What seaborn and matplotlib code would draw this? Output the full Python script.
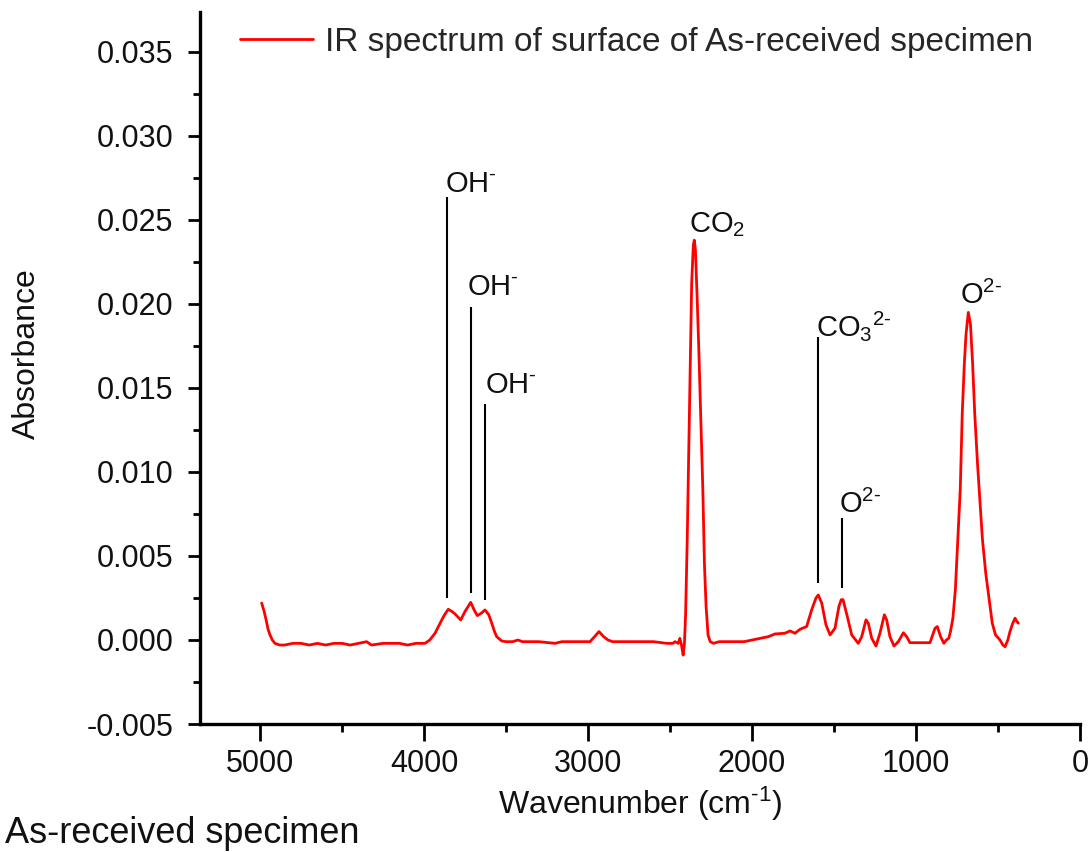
import matplotlib
matplotlib.use('Agg')
import matplotlib.pyplot as plt
from matplotlib.ticker import MultipleLocator, FormatStrFormatter
import seaborn as sns
import pandas as pd

# IR spectrum (wavenumber in cm-1, absorbance)
wavenumber = [4990, 4975, 4963, 4950, 4939, 4925, 4909, 4880, 4850, 4800, 4750, 4700,
              4650, 4600, 4550, 4500, 4450, 4400, 4350, 4320, 4250, 4200, 4150, 4100,
              4050, 4020, 3994, 3965, 3933, 3902, 3875, 3852, 3830, 3811, 3776, 3750,
              3715, 3695, 3675, 3650, 3628, 3605, 3587, 3570, 3557, 3526, 3500, 3460,
              3427, 3400, 3300, 3201, 3160, 3050, 2988, 2960, 2933, 2905, 2878, 2850,
              2700, 2600, 2520, 2482, 2470, 2450, 2440, 2430, 2420, 2412, 2405, 2395,
              2385, 2375, 2368, 2358, 2352, 2345, 2335, 2325, 2310, 2300, 2290, 2280,
              2268, 2255, 2235, 2200, 2150, 2100, 2049, 2000, 1951, 1900, 1860, 1800,
              1768, 1738, 1707, 1667, 1636, 1610, 1596, 1575, 1549, 1524, 1494, 1470,
              1456, 1445, 1419, 1392, 1352, 1331, 1305, 1291, 1270, 1244, 1220, 1193,
              1179, 1159, 1134, 1108, 1077, 1057, 1037, 980, 915, 884, 870, 850,
              830, 815, 800, 790, 775, 760, 745, 730, 718, 705, 695, 681,
              668, 655, 642, 625, 610, 595, 575, 555, 535, 515, 488, 470,
              457, 440, 427, 410, 396, 385, 376]
absorbance = [0.0022, 0.0017, 0.0012, 0.0006, 0.0003, 0.0000, -0.0002, -0.0003, -0.0003, -0.0002, -0.0002, -0.0003,
              -0.0002, -0.0003, -0.0002, -0.0002, -0.0003, -0.0002, -0.0001, -0.0003, -0.0002, -0.0002, -0.0002, -0.0003,
              -0.0002, -0.0002, -0.0002, 0.0000, 0.0004, 0.0010, 0.0015, 0.00183, 0.0017, 0.00155, 0.00119, 0.0017,
              0.00224, 0.0018, 0.00145, 0.0016, 0.00179, 0.0015, 0.0010, 0.0005, 0.0002, -0.00006, -0.0001, -0.0001,
              0.0000, -0.0001, -0.0001, -0.0002, -0.0001, -0.0001, -0.0001, 0.0002, 0.0005, 0.0002, 0.0000, -0.0001,
              -0.0001, -0.0001, -0.0002, -0.0002, -0.0001, -0.0002, 0.0001, -0.0003, -0.0009, -0.0002, 0.0015, 0.0060,
              0.0115, 0.0170, 0.0212, 0.0235, 0.0238, 0.0232, 0.0205, 0.0175, 0.0125, 0.0090, 0.0045, 0.0020,
              0.0003, -0.0001, -0.0002, -0.0001, -0.0001, -0.0001, -0.0001, 0.0000, 0.0001, 0.0002, 0.00036, 0.0004,
              0.00054, 0.0004, 0.00064, 0.0008, 0.0018, 0.0025, 0.00268, 0.0022, 0.0009, 0.0003, 0.0007, 0.0020,
              0.0024, 0.0024, 0.0014, 0.0003, -0.0002, 0.0002, 0.0012, 0.0010, 0.0001, -0.00036, 0.0004, 0.0015,
              0.0012, 0.0002, -0.00036, -0.0001, 0.00043, 0.0002, -0.00016, -0.00016, -0.00016, 0.0007, 0.0008, 0.0002,
              -0.0002, 0.0000, 0.0001, 0.0005, 0.0013, 0.0030, 0.0060, 0.0090, 0.0135, 0.0165, 0.0182, 0.0195,
              0.0188, 0.0165, 0.0135, 0.0105, 0.0082, 0.0060, 0.0040, 0.0025, 0.0010, 0.0003, 0.0000, -0.0003,
              -0.0004, 0.0000, 0.0005, 0.0010, 0.0013, 0.0011, 0.0010]

# marker lines for the assigned bands
line_wn = [3862, 3716, 3628, 1596, 1453]
line_bottom = [0.0025, 0.0028, 0.0024, 0.0034, 0.0031]
line_top = [0.02637, 0.0198, 0.01405, 0.01805, 0.00724]

# band labels (hyphen kept as a plain hyphen like the original)
label_text = ['OH$^{\\text{-}}$', 'OH$^{\\text{-}}$', 'OH$^{\\text{-}}$', 'CO$_2$',
              'CO$_3$$^{2\\text{-}}$', 'O$^{2\\text{-}}$', 'O$^{2\\text{-}}$']
label_wn = [3862, 3716, 3628, 2352, 1596, 1453, 681]
label_ab = [0.02637, 0.0198, 0.01405, 0.0238, 0.01805, 0.00724, 0.0195]
label_dx = [-2, -4, 0, -5, -2, -3, -8]
label_dy = [5, 12, 11, 8, 1, 5, 8]

series_name = 'IR spectrum of surface of As-received specimen'

df = pd.DataFrame({'wavenumber': wavenumber, 'absorbance': absorbance})

sns.set_style('ticks')
plt.rcParams['font.family'] = ['Liberation Sans', 'DejaVu Sans']
plt.rcParams['mathtext.fontset'] = 'custom'
plt.rcParams['mathtext.rm'] = 'Liberation Sans'
plt.rcParams['mathtext.it'] = 'Liberation Sans:italic'
plt.rcParams['mathtext.bf'] = 'Liberation Sans:bold'
plt.rcParams['axes.unicode_minus'] = False

fig = plt.figure(figsize=(10.91, 8.52), dpi=100)
ax = fig.add_axes([200/1091, 1-724/852, 880/1091, 712/852])

sns.lineplot(data=df, x='wavenumber', y='absorbance', color='#ff0000', lw=2,
             sort=False, estimator=None, ax=ax, label=series_name)

ax.vlines(line_wn, line_bottom, line_top, color='black', lw=1.5)
for t, x, y, dx, dy in zip(label_text, label_wn, label_ab, label_dx, label_dy):
    ax.annotate(t, (x, y), xytext=(dx*0.72, dy*0.72), textcoords='offset points',
                ha='left', va='baseline', fontsize=21, color='#111111')

ax.set_xlim(5366, 0)
ax.set_ylim(-0.005, 0.03738)
ax.xaxis.set_major_locator(MultipleLocator(1000))
ax.xaxis.set_minor_locator(MultipleLocator(500))
ax.yaxis.set_major_locator(MultipleLocator(0.005))
ax.yaxis.set_minor_locator(MultipleLocator(0.0025))
ax.yaxis.set_major_formatter(FormatStrFormatter('%.3f'))

sns.despine(ax=ax)
for s in ['left', 'bottom']:
    ax.spines[s].set_linewidth(2.4)
    ax.spines[s].set_color('black')
ax.tick_params(axis='both', which='both', direction='out', width=2, color='black',
               labelsize=22, labelcolor='#111111')
ax.tick_params(axis='x', which='major', length=12, pad=6)
ax.tick_params(axis='x', which='minor', length=6)
ax.tick_params(axis='y', which='major', length=9, pad=10)
ax.tick_params(axis='y', which='minor', length=5)

ax.set_xlabel('Wavenumber (cm$^{\\text{-1}}$)', fontsize=23, color='#111111')
ax.set_ylabel('Absorbance', fontsize=23, color='#111111')
ax.xaxis.set_label_coords(0.5, -0.085)
ax.yaxis.set_label_coords(-0.18, 0.52)

ax.legend(loc='center left', bbox_to_anchor=(240/1091, 1-42/852), bbox_transform=fig.transFigure,
          frameon=False, fontsize=24, handlelength=2.2, handletextpad=0.35,
          borderpad=0, borderaxespad=0)

fig.text(5/1091, 1/852, 'As-received specimen', fontsize=26, va='bottom', ha='left', color='#111111')

fig.savefig('out.png', dpi=100)
